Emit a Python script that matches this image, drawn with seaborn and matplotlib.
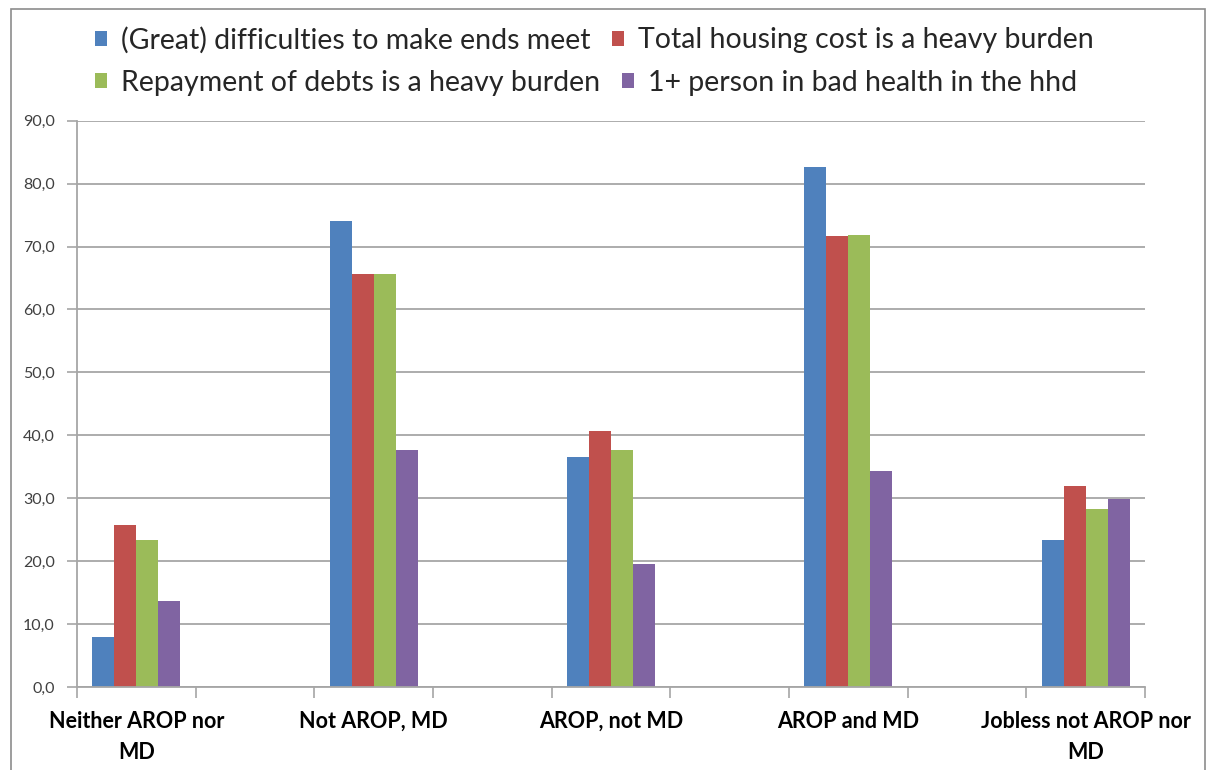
import numpy as np
import pandas as pd
import matplotlib
matplotlib.use("Agg")
import matplotlib.pyplot as plt
import matplotlib.patches as mpatches
from matplotlib.ticker import FuncFormatter, FixedLocator
import seaborn as sns

groups = ["Neither AROP nor\nMD", "Not AROP, MD", "AROP, not MD",
          "AROP and MD", "Jobless not AROP nor\nMD"]
series = ["(Great) difficulties to make ends meet",
          "Total housing cost is a heavy burden",
          "Repayment of debts is a heavy burden",
          "1+ person in bad health in the hhd"]
colors = ["#4F81BD", "#C0504D", "#9BBB59", "#8064A2"]

difficulties = [7.9, 74.1, 36.6, 82.6, 23.4]
housing = [25.7, 65.7, 40.7, 71.7, 32.0]
debts = [23.3, 65.7, 37.7, 71.9, 28.3]
bad_health = [13.7, 37.7, 19.6, 34.4, 29.9]

yticks = [0, 10, 20, 30, 40, 50, 60, 70, 80, 90]

rows = []
for s, vals in zip(series, [difficulties, housing, debts, bad_health]):
    for g, v in zip(groups, vals):
        rows.append({"group": g, "indicator": s, "share": v})
df = pd.DataFrame(rows)

# empty slots between the groups, like the spacer columns in the sheet
slots = []
for i, g in enumerate(groups):
    slots.append(g)
    if i < len(groups) - 1:
        slots.append(" " * (i + 1))

sns.set_style("white")
plt.rcParams["font.family"] = ["Lato", "DejaVu Sans"]

W, H = 1206, 770
fig = plt.figure(figsize=(W / 100, H / 100), dpi=100)
ax = fig.add_axes([77 / W, 1 - 687 / H, (1145 - 77) / W, (687 - 120.7) / H])

sns.barplot(data=df, x="group", y="share", hue="indicator", order=slots,
            hue_order=series, palette=colors, saturation=1, width=0.74,
            errorbar=None, linewidth=0, ax=ax)

ax.set_xlim(-0.5, len(slots) - 0.5)
ax.set_ylim(0, 90)
ax.set_yticks(yticks)
ax.yaxis.set_major_formatter(FuncFormatter(lambda v, p: f"{v:.1f}".replace(".", ",")))
ax.grid(axis="y", color="#A6A6A6", linewidth=1.3)
ax.set_axisbelow(True)
ax.set_xlabel("")
ax.set_ylabel("")

labels = [s if s.strip() else "" for s in slots]
ax.set_xticks(range(len(slots)))
ax.set_xticklabels(labels, fontsize=15.5, fontweight="bold", color="black",
                   linespacing=1.6, va="top")
ax.tick_params(axis="x", which="major", length=0, pad=17)
ax.xaxis.set_minor_locator(FixedLocator(np.arange(-0.5, len(slots), 1.0)))
ax.tick_params(axis="x", which="minor", length=8, width=1.2, color="#A6A6A6",
               direction="out", bottom=True)
ax.tick_params(axis="y", length=7, width=1.2, color="#A6A6A6", direction="out",
               labelsize=11.5, labelcolor="#404040", pad=9, left=True)

for side in ["top", "right"]:
    ax.spines[side].set_visible(False)
for side in ["left", "bottom"]:
    ax.spines[side].set_color("#A6A6A6")
    ax.spines[side].set_linewidth(1.3)

handles, labs = ax.get_legend_handles_labels()
ax.get_legend().remove()
leg_kw = dict(ncol=2, frameon=False, fontsize=20.5, handlelength=0.42,
              handleheight=0.42, handletextpad=0.5, columnspacing=0.75,
              borderpad=0, borderaxespad=0, loc="center left")
leg1 = fig.legend(handles[:2], labs[:2], bbox_to_anchor=(95 / W, 1 - 40 / H), **leg_kw)
leg2 = fig.legend(handles[2:], labs[2:], bbox_to_anchor=(95 / W, 1 - 83 / H), **leg_kw)

# thin frame around the chart area
fig.patches.append(mpatches.Rectangle((11 / W, -0.05), (1205 - 11) / W, 1.05 - 9 / H,
                                      transform=fig.transFigure, fill=False,
                                      edgecolor="#8C8C8C", linewidth=1.2))

fig.savefig("out.png", dpi=100)
